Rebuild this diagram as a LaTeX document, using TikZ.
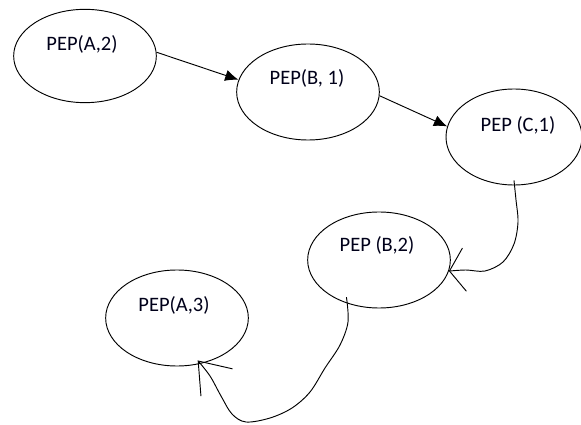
\documentclass[tikz,border=0pt]{standalone}
\usepackage{fontspec}
\setmainfont{Carlito}
\usetikzlibrary{shapes,arrows.meta}
\tikzstyle{pep} = [ellipse, draw, line width=0.8pt, minimum width=4.28cm,
    minimum height=2.88cm, inner sep=0pt]
\tikzstyle{peptext} = [font=\fontsize{17.5}{20}\selectfont, text=black!90!blue]
\tikzstyle{line} = [draw, line width=0.8pt, -{Latex[length=4mm,width=3.4mm]}]
\tikzstyle{scrawl} = [draw, line width=0.8pt]

\begin{document}
\begin{tikzpicture}[x=0.03cm, y=-0.03cm]
    \useasboundingbox (0,0) rectangle (581,425);
    % Place nodes
    \node [pep, minimum height=2.8cm] (a2) at (85,56) {};
    \node [pep] (b1) at (308,92) {};
    \node [pep, minimum width=4.08cm] (c1) at (514,137) {};
    \node [pep] (b2) at (379,260) {};
    \node [pep] (a3) at (177,318) {};
    % texts
    \node [peptext] (ta2) at (82,44) {PEP(A,2)};
    \node [peptext] (tb1) at (307,78) {PEP(B, 1)};
    \node [peptext] (tc1) at (518,125) {PEP (C,1)};
    \node [peptext] (tb2) at (377,245) {PEP (B,2)};
    \node [peptext] (ta3) at (174,305) {PEP(A,3)};
    % arrows
    \path [line] (a2.3) -- (b1.170);
    \path [line] (b1.-3) -- (c1.171);
    % hand drawn ones
    \path [scrawl, -{Straight Barb[length=4.5mm,width=13mm]}]
        plot [smooth, tension=0.55] coordinates {([yshift=0.15cm]c1.south)
        (516,200) (518,222) (514,244) (503,262) (485,271) (466,270) (b2.-9)};
    \path [scrawl, -{Straight Barb[length=8.5mm,width=12.5mm]}]
        plot [smooth, tension=0.55] coordinates {([yshift=0.18cm]b2.-127)
        (348,322) (340,345) (325,368) (310,392) (292,408) (270,418) (246,422)
        (232,414) (221,396) (210,376) ([yshift=0.12cm]a3.-66)};
\end{tikzpicture}
\end{document}
